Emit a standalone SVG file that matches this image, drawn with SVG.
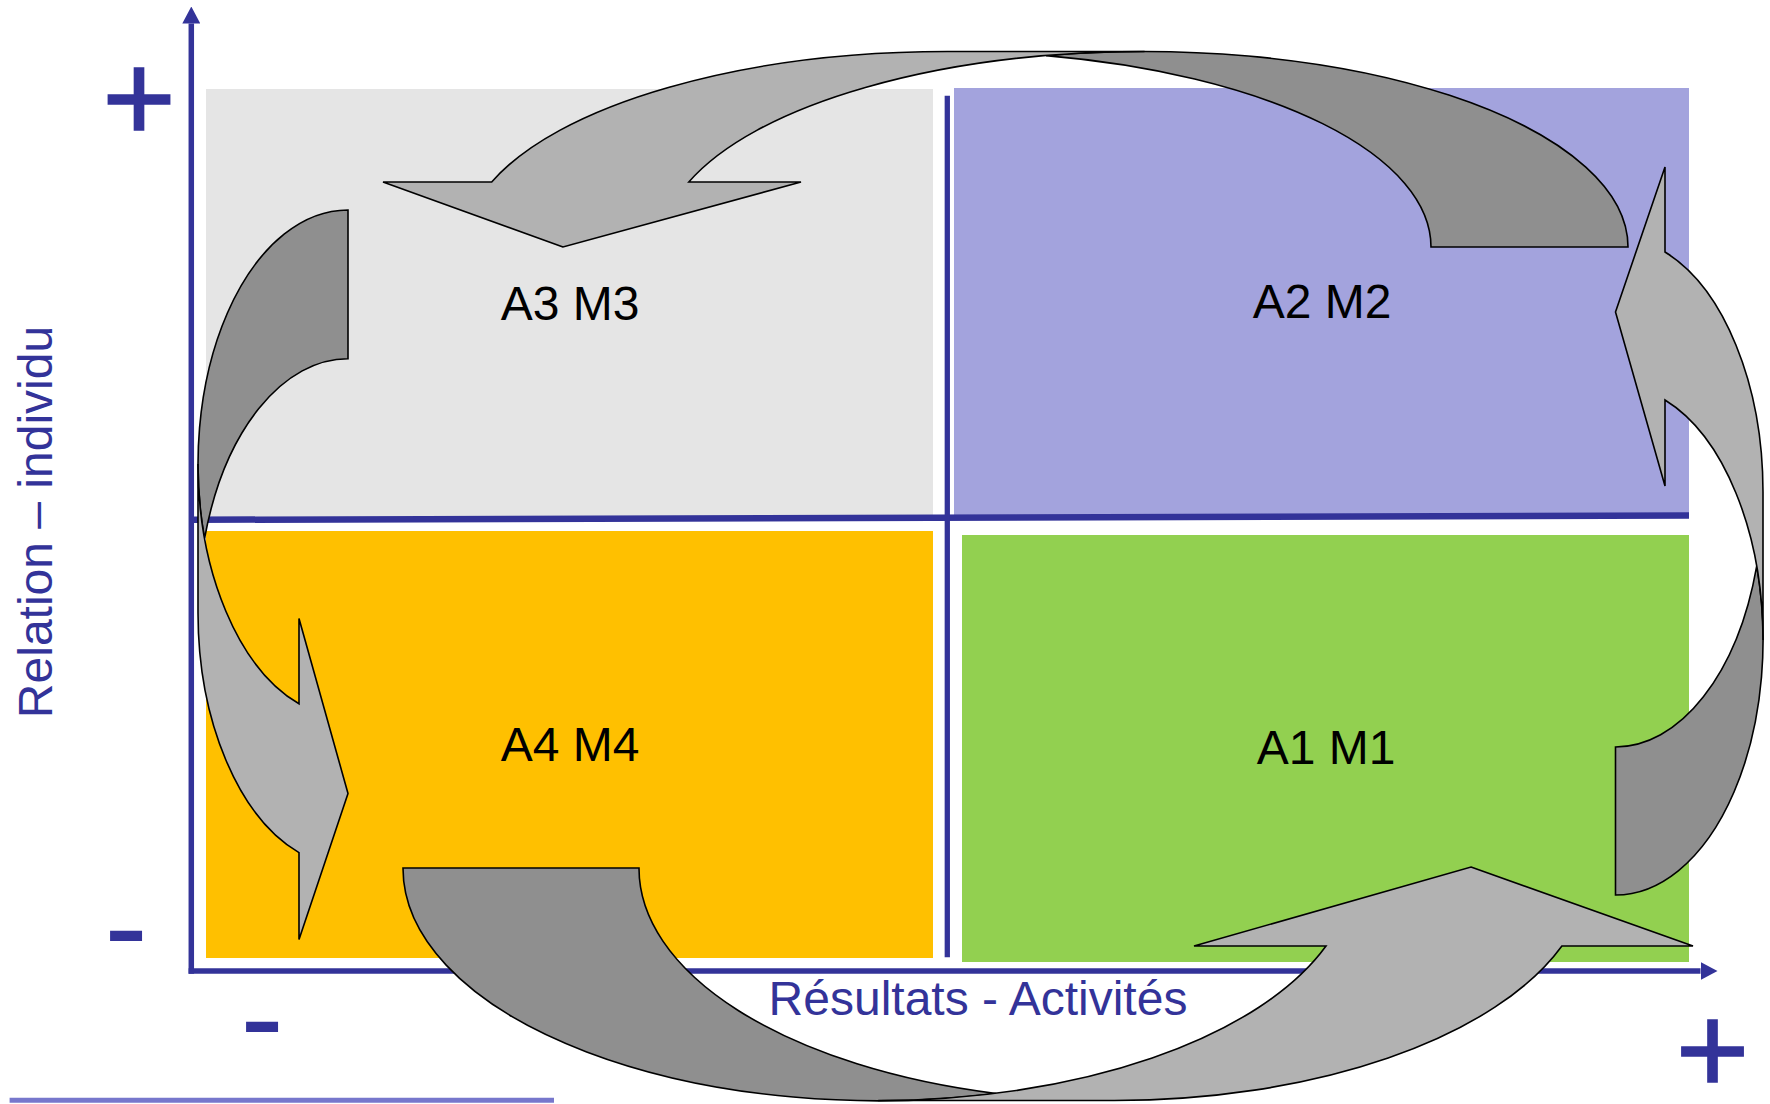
<svg xmlns="http://www.w3.org/2000/svg" width="1770" height="1104" viewBox="0 0 1770 1104">
  <defs>
    <style>
      .axis { stroke: #333399; stroke-width: 5.5; fill: none; }
      .divider { stroke: #333399; fill: none; }
      .label { font-family: "Liberation Sans", Arial, sans-serif; font-size: 48px; fill: #000000; text-anchor: middle; }
      .axis-title { font-family: "Liberation Sans", Arial, sans-serif; font-size: 48px; fill: #333399; text-anchor: middle; }
      .sign { font-family: "Liberation Sans", Arial, sans-serif; fill: #333399; text-anchor: middle; }
      .plus { stroke: #333399; stroke-width: 1.6; }
      .front { fill: #b2b2b2; stroke: #000000; stroke-width: 1.6; stroke-linejoin: miter; }
      .back { fill: #8f8f8f; stroke: #000000; stroke-width: 1.6; stroke-linejoin: miter; }
    </style>
    <marker id="axisHead" markerUnits="userSpaceOnUse" markerWidth="17" markerHeight="18" refX="0" refY="9" orient="auto" viewBox="0 0 17 18">
      <path d="M0,0 L17,9 L0,18 Z" fill="#333399"/>
    </marker>
  </defs>

  <rect width="1770" height="1104" fill="#ffffff"/>

  <!-- quadrants -->
  <g id="quadrant-a3">
    <rect x="206" y="89" width="727" height="428" fill="#e5e5e5"/>
    <text class="label" x="570" y="320">A3 M3</text>
  </g>
  <g id="quadrant-a2">
    <rect x="954" y="88" width="735" height="428" fill="#a3a3dd"/>
    <text class="label" x="1322" y="318">A2 M2</text>
  </g>
  <g id="quadrant-a4">
    <rect x="206" y="531" width="727" height="427" fill="#ffc000"/>
    <text class="label" x="570" y="761">A4 M4</text>
  </g>
  <g id="quadrant-a1">
    <rect x="962" y="535" width="727" height="427" fill="#92d050"/>
    <text class="label" x="1326" y="763.5">A1 M1</text>
  </g>

  <!-- axes, dividers and their labels -->
  <g id="axes">
    <line class="divider" stroke-width="6.5" x1="194" y1="519.8" x2="1689" y2="515.5"/>
    <line class="divider" stroke-width="5.3" x1="947.3" y1="95.7" x2="947.3" y2="957.3"/>
    <line class="axis" x1="191.3" y1="973.7" x2="191.3" y2="23.5" marker-end="url(#axisHead)"/>
    <line class="axis" x1="188.6" y1="971" x2="1700.5" y2="971" marker-end="url(#axisHead)"/>
    <text class="axis-title" x="978" y="1015">Résultats - Activités</text>
    <text class="axis-title" transform="translate(52.3,522) rotate(-90)">Relation – individu</text>
    <text class="sign plus" x="139" y="141" font-size="126">+</text>
    <text class="sign plus" x="1712.5" y="1093.4" font-size="126">+</text>
    <text class="sign" x="126" y="971.4" font-size="131">-</text>
    <text class="sign" x="262" y="1062.4" font-size="131">-</text>
    <line x1="9.6" y1="1100.2" x2="554" y2="1100.2" stroke="#7777cc" stroke-width="5"/>
  </g>

  <!-- curved arrows cycling A1 -> A2 -> A3 -> A4 -> A1 -->
  <g id="connectors">
    <g id="arrow-a2-a3">
      <path class="back" d="M1628,247 A483.4,195.5 0 0 0 1046.1,55.6 A483.4,195.5 0 0 1 1431,247 Z"/>
      <path class="front" d="M563,247 L383,182 L491.7,182 A483.4,195.5 0 0 1 947.6,51.5 L1144.6,51.5 A483.4,195.5 0 0 0 688.8,182 L801,182 Z"/>
    </g>
    <g id="arrow-a3-a4">
      <path class="back" d="M348,210 A150,254 0 0 0 204.6,538.4 A150,254 0 0 1 348,358.7 Z"/>
      <path class="front" d="M348,793.5 L299,939.5 L299,852.6 A150,254 0 0 1 198,612.7 L198,464 A150,254 0 0 0 299,703.8 L299,618.5 Z"/>
    </g>
    <g id="arrow-a4-a1">
      <path class="back" d="M403,868 A475.2,232.5 0 0 0 996.2,1093.5 A475.2,232.5 0 0 1 639,868 Z"/>
      <path class="front" d="M1471,867 L1693,946 L1561.9,946 A475.2,232.5 0 0 1 1114.2,1100.5 L878.2,1100.5 A475.2,232.5 0 0 0 1326,946 L1194,946 Z"/>
    </g>
    <g id="arrow-a1-a2">
      <path class="back" d="M1615.5,895 A147.5,254.9 0 0 0 1756.7,566.1 A147.5,254.9 0 0 1 1615.5,747 Z"/>
      <path class="front" d="M1615.5,312 L1665,167 L1665,252 A147.5,254.9 0 0 1 1763,492.1 L1763,640.1 A147.5,254.9 0 0 0 1665,400 L1665,486 Z"/>
    </g>
  </g>
</svg>
